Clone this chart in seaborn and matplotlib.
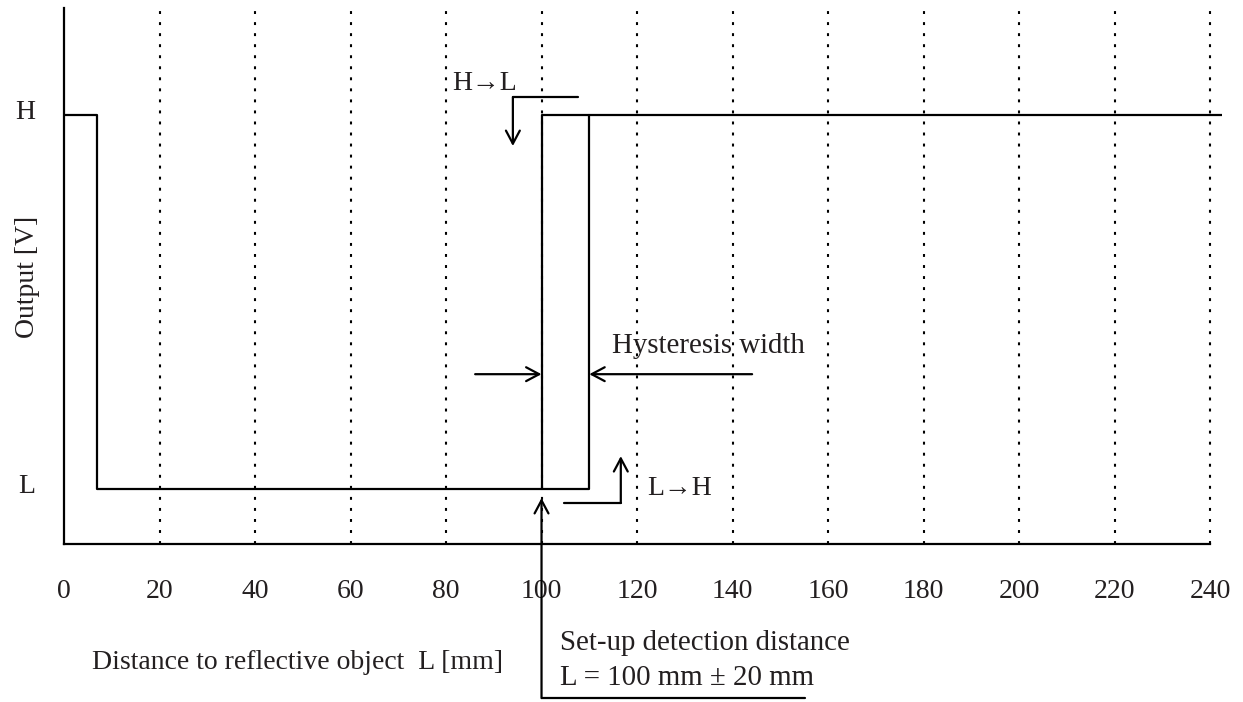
import numpy as np
import pandas as pd
import seaborn as sns
import matplotlib.pyplot as plt
import matplotlib.transforms as mtransforms

# output levels: L = 0, H = 1
dist_a = [0, 7, 7, 110, 110]
out_a = [1, 1, 0, 0, 1]
dist_b = [100, 100, 242.5]
out_b = [0, 1, 1]
xticks = [0, 20, 40, 60, 80, 100, 120, 140, 160, 180, 200, 220, 240]
yticks = [0, 1]
ylabels = ['L', 'H']

sns.set_theme(style='white')
plt.rcParams['font.family'] = ['Liberation Serif', 'DejaVu Serif']
plt.rcParams['font.size'] = 20

fig = plt.figure(figsize=(12.43, 7.02), dpi=100)
ax = fig.add_axes([64/1243, 158/702, 1158/1243, 536/702])
ax.set_xlim(0, 242.5)
ax.set_ylim(-0.147, 1.286)

# dotted grid
ax.vlines(xticks[1:], -0.147, 1.286, colors='black', lw=1.5,
          linestyles=(0, (1.4, 3.9)))

df_a = pd.DataFrame({'dist': dist_a, 'out': out_a})
df_b = pd.DataFrame({'dist': dist_b, 'out': out_b})
sns.lineplot(data=df_a, x='dist', y='out', sort=False, estimator=None,
             color='black', lw=1.6, ax=ax)
sns.lineplot(data=df_b, x='dist', y='out', sort=False, estimator=None,
             color='black', lw=1.6, ax=ax)

for s in ['top', 'right']:
    ax.spines[s].set_visible(False)
ax.spines['bottom'].set_bounds(0, 240)
ax.spines['left'].set_color('black')
ax.spines['bottom'].set_color('black')
ax.spines['left'].set_linewidth(1.6)
ax.spines['bottom'].set_linewidth(1.6)

txt = '#231f20'
ax.set_xticks(xticks)
ax.set_xticklabels([str(t) for t in xticks], fontsize=20, color=txt)
ax.set_yticks(yticks)
ax.set_yticklabels(ylabels, fontsize=20, color=txt)
ax.tick_params(axis='x', length=0, pad=25)
ax.tick_params(axis='y', length=0, pad=21)
up = mtransforms.ScaledTranslation(0, 4/72, fig.dpi_scale_trans)
for lbl in ax.get_yticklabels():
    lbl.set_transform(lbl.get_transform() + up)
ax.set_xlabel('')
ax.set_ylabel('')

fig.text(27/1243, 1 - 277/702, 'Output [V]', rotation=90, ha='center',
         va='center', fontsize=20, color=txt)

arrow = dict(arrowstyle='->,head_length=0.47,head_width=0.25', color='black',
             lw=1.6, shrinkA=0, shrinkB=0, mutation_scale=20)
line_kw = dict(color='black', lw=1.6, clip_on=False)

# H -> L
ax.plot([94.0, 107.6], [1.048, 1.048], **line_kw)
ax.annotate('', xy=(94.0, 0.917), xytext=(94.0, 1.048), arrowprops=arrow,
            annotation_clip=False)
ax.text(81.3, 1.067, 'H→L', fontsize=20, va='baseline', color=txt)

# L -> H
ax.plot([104.7, 116.6], [-0.037, -0.037], **line_kw)
ax.annotate('', xy=(116.6, 0.088), xytext=(116.6, -0.037), arrowprops=arrow,
            annotation_clip=False)
ax.text(122.1, -0.016, 'L→H', fontsize=20, va='baseline', color=txt)

# hysteresis width
ax.annotate('', xy=(100, 0.307), xytext=(86.1, 0.307), arrowprops=arrow,
            annotation_clip=False)
ax.annotate('', xy=(110, 0.307), xytext=(144.1, 0.307), arrowprops=arrow,
            annotation_clip=False)
ax.text(114.8, 0.364, 'Hysteresis width', fontsize=20.8, va='baseline',
        color=txt)

# set-up detection distance
ax.annotate('', xy=(100, -0.024), xytext=(100, -0.559), arrowprops=arrow,
            annotation_clip=False)
ax.plot([100, 155.2], [-0.559, -0.559], **line_kw)
ax.text(103.9, -0.430, 'Set-up detection distance', fontsize=20.8,
        va='baseline', color=txt)
ax.text(103.9, -0.524, 'L = 100 mm ± 20 mm', fontsize=20.8, va='baseline',
        color=txt)
ax.text(5.9, -0.481, 'Distance to reflective object  L [mm]', fontsize=20,
        va='baseline', color=txt)

fig.savefig('out.png', dpi=100)
